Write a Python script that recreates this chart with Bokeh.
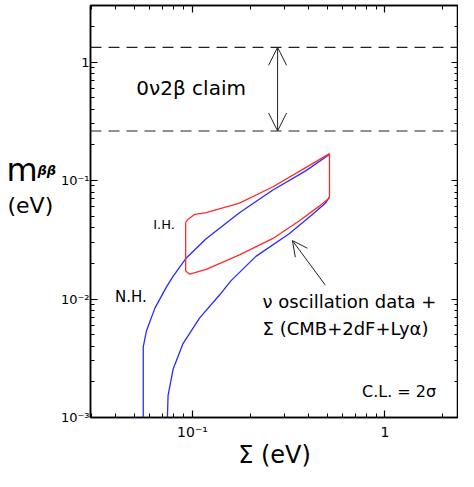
from bokeh.plotting import figure
from bokeh.layouts import row
from bokeh.models import LogAxis, FixedTicker, Span, Arrow, OpenHead, Label, Range1d
from bokeh.embed import file_html
from bokeh.resources import INLINE

# ---------------- data ----------------
nh_upper_sum = [0.0555, 0.0555, 0.0577, 0.0638, 0.0732, 0.0793, 0.0929, 0.1178, 0.1754, 0.2606, 0.3873, 0.512]
nh_upper_mbb = [0.001, 0.00394, 0.0054, 0.00838, 0.0126, 0.0155, 0.0222, 0.0323, 0.0535, 0.0828, 0.1207, 0.1653]

nh_lower_sum = [0.0741, 0.0747, 0.0793, 0.0893, 0.109, 0.1382, 0.1587, 0.2136, 0.318, 0.4195, 0.4915, 0.515]
nh_lower_mbb = [0.001, 0.00154, 0.00255, 0.00421, 0.00694, 0.0108, 0.0143, 0.0229, 0.0355, 0.0517, 0.0645, 0.073]

ih_sum = [0.0922, 0.0922, 0.0967, 0.1178, 0.1754, 0.2606, 0.358, 0.454, 0.512, 0.515,
          0.515, 0.3873, 0.2606, 0.1754, 0.1178, 0.1026, 0.0948, 0.0922]
ih_mbb = [0.0443, 0.01726, 0.0162, 0.0178, 0.0236, 0.0323, 0.0456, 0.0605, 0.0708, 0.073,
          0.1685, 0.1285, 0.0882, 0.0645, 0.0535, 0.0517, 0.0471, 0.0443]

claim_range = [0.262, 1.33]
claim_arrow_sum = 0.2768

x_ticks = [0.1, 1.0]
x_tick_labels = ["10⁻¹", "1"]
y_ticks = [0.001, 0.01, 0.1, 1.0]
y_tick_labels = ["10⁻³", "10⁻²", "10⁻¹", "1"]

x_minor = [m * 10.0 ** e for e in (-2, -1, 0) for m in range(2, 10)]
y_minor = [m * 10.0 ** e for e in (-3, -2, -1, 0) for m in range(2, 10)]

FONT = "DejaVu Sans"
BLUE = "#2a2aff"
RED = "#ff2a2a"
INK = "#222222"

H = 471
LW = 57          # width of the strip that carries the y-axis title
PW = 458 - LW    # width of the main plot

p = figure(width=PW, height=H, x_axis_type="log", y_axis_type="log",
           x_range=Range1d(0.02953, 2.41), y_range=Range1d(0.001, 3.0),
           output_backend="svg", toolbar_location=None,
           min_border_left=87 - LW, min_border_right=0, min_border_top=5, min_border_bottom=50)
p.grid.visible = False
p.outline_line_color = "black"
p.outline_line_width = 1.5
p.background_fill_color = "white"
p.border_fill_color = "white"


def style_axis(ax, labels=True, size="14px"):
    ax.axis_line_width = 1.5
    ax.axis_line_color = "black"
    ax.major_tick_in = 7
    ax.major_tick_out = 0
    ax.minor_tick_in = 4
    ax.minor_tick_out = 0
    ax.major_tick_line_width = 1.2
    ax.minor_tick_line_width = 1.0
    ax.major_tick_line_color = "black"
    ax.minor_tick_line_color = "black"
    ax.major_label_text_font = FONT
    if labels:
        ax.major_label_text_font_size = size
        ax.major_label_text_color = "black"
    else:
        ax.major_label_text_font_size = "1px"
        ax.major_label_text_color = None
        ax.major_label_standoff = 0


xa = p.xaxis[0]
xa.ticker = FixedTicker(ticks=x_ticks, minor_ticks=x_minor)
xa.major_label_overrides = dict(zip(x_ticks, x_tick_labels))
style_axis(xa)
xa.major_label_standoff = 6
xa.axis_label = "Σ (eV)"
xa.axis_label_text_font = FONT
xa.axis_label_text_font_size = "24px"
xa.axis_label_text_font_style = "normal"
xa.axis_label_text_color = "black"
xa.axis_label_standoff = -2

ya = p.yaxis[0]
ya.ticker = FixedTicker(ticks=y_ticks, minor_ticks=y_minor)
ya.major_label_overrides = dict(zip(y_ticks, y_tick_labels))
style_axis(ya, size="13px")
ya.major_label_standoff = 1

top = LogAxis(ticker=FixedTicker(ticks=x_ticks, minor_ticks=x_minor))
style_axis(top, labels=False)
p.add_layout(top, "above")
right = LogAxis(ticker=FixedTicker(ticks=y_ticks, minor_ticks=y_minor))
style_axis(right, labels=False)
p.add_layout(right, "right")

# curves
p.line(nh_upper_sum, nh_upper_mbb, line_color=BLUE, line_width=1.3)
p.line(nh_lower_sum, nh_lower_mbb, line_color=BLUE, line_width=1.3)
p.line(ih_sum, ih_mbb, line_color=RED, line_width=1.3)

# claim band
for v in claim_range:
    p.add_layout(Span(location=v, dimension="width", line_color=INK,
                      line_width=1.1, line_dash="11 7"))
p.add_layout(Arrow(start=OpenHead(size=18, line_width=1, line_color=INK),
                   end=OpenHead(size=18, line_width=1, line_color=INK),
                   x_start=claim_arrow_sum, y_start=claim_range[0],
                   x_end=claim_arrow_sum, y_end=claim_range[1],
                   line_width=1, line_color=INK))

# pointer arrow
p.add_layout(Arrow(end=OpenHead(size=15, line_width=1, line_color=INK),
                   x_start=0.49, y_start=0.0131, x_end=0.3306, y_end=0.0311,
                   line_width=1, line_color=INK))


def lab(fig, x, y, text, size, style="normal", baseline="middle", units="data"):
    fig.add_layout(Label(x=x, y=y, text=text, x_units=units, y_units=units,
                         text_font=FONT, text_font_size=size, text_font_style=style,
                         text_align="left", text_baseline=baseline, text_color="black"))


lab(p, 0.0511, 0.598, "0ν2β  claim", "20px")
lab(p, 0.0625, 0.0424, "I.H.", "13px")
lab(p, 0.0396, 0.01045, "N.H.", "15px")
lab(p, 0.2313, 0.0095, "ν oscillation data +", "18px")
lab(p, 0.2313, 0.00561, "Σ (CMB+2dF+Lyα)", "18px")
lab(p, 0.760, 0.00165, "C.L. = 2σ", "16px")

# strip to the left carrying the y-axis title
pl = figure(width=LW, height=H, output_backend="svg", toolbar_location=None,
            x_axis_location=None, y_axis_location=None, min_border=0,
            x_range=Range1d(0, 1), y_range=Range1d(0, 1))
pl.grid.visible = False
pl.outline_line_color = None
pl.background_fill_color = "white"
pl.border_fill_color = "white"
lab(pl, 6, H - 223, "m", "32px", baseline="alphabetic", units="screen")
lab(pl, 37, H - 224, "ββ", "13px", style="bold italic", baseline="alphabetic", units="screen")
lab(pl, 7, H - 259, "(eV)", "22px", baseline="alphabetic", units="screen")

layout = row(pl, p, spacing=0)
open("out.html", "w").write(file_html(layout, INLINE))
